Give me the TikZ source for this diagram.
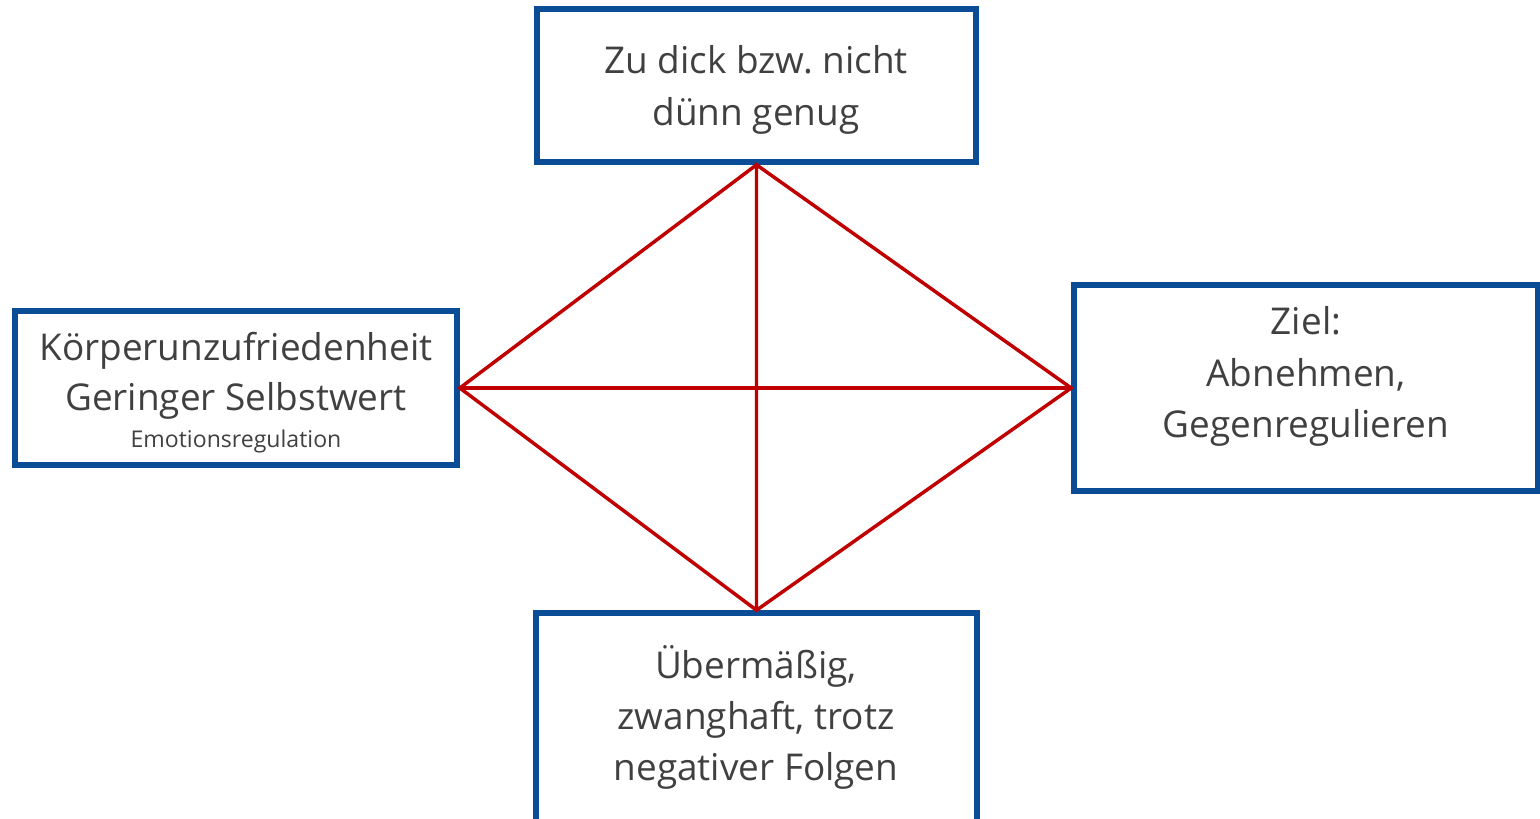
\documentclass[tikz,border=0pt]{standalone}
\usepackage{fontspec}
\setmainfont{Open Sans}
\frenchspacing
\definecolor{boxblue}{RGB}{10,76,150}
\definecolor{linered}{RGB}{192,0,0}
\definecolor{txt}{RGB}{64,64,64}
\begin{document}
\begin{tikzpicture}[x=0.75pt,y=-0.75pt,
  box/.style={draw=boxblue,line width=4.2pt,rectangle,inner sep=0pt},
  conn/.style={draw=linered,line width=2.6pt},
  big/.style={text=txt,font=\fontsize{27.7}{34}\selectfont,anchor=base,inner sep=0pt},
  small/.style={text=txt,font=\fontsize{17.3}{20}\selectfont,anchor=base,inner sep=0pt}]
\useasboundingbox (0,0) rectangle (1540,818);
\clip (0,0) rectangle (1540,818);
\node[box,minimum width=329.25pt,minimum height=114.75pt] (top) at (756.5,85.5) {};
\node[box,minimum width=331.5pt,minimum height=115.5pt] (left) at (236,388) {};
\node[box,minimum width=348pt,minimum height=154.5pt] (right) at (1306,388) {};
\node[box,minimum width=330.75pt,minimum height=157.5pt] (bottom) at (756.5,718) {};
\draw[conn] (top.south) -- (left.east) -- (bottom.north) -- (right.west) -- (top.south) -- (bottom.north);
\draw[conn] (left.east) -- (right.west);
\node[big] (t1) at (756,73) {Zu dick bzw. nicht};
\node[big] (t2) at (756,125) {dünn genug};
\node[big] (l1) at (236,360) {Körperunzufriedenheit};
\node[big] (l2) at (236,410) {Geringer Selbstwert};
\node[small] (l3) at (236,447) {Emotionsregulation};
\node[big] (r1) at (1306,334) {Ziel:};
\node[big] (r2) at (1306,386) {Abnehmen,};
\node[big] (r3) at (1306,437) {Gegenregulieren};
\node[big] (b1) at (756,678) {Übermäßig,};
\node[big] (b2) at (756,729) {zwanghaft, trotz};
\node[big] (b3) at (756,780) {negativer Folgen};
\end{tikzpicture}
\end{document}
